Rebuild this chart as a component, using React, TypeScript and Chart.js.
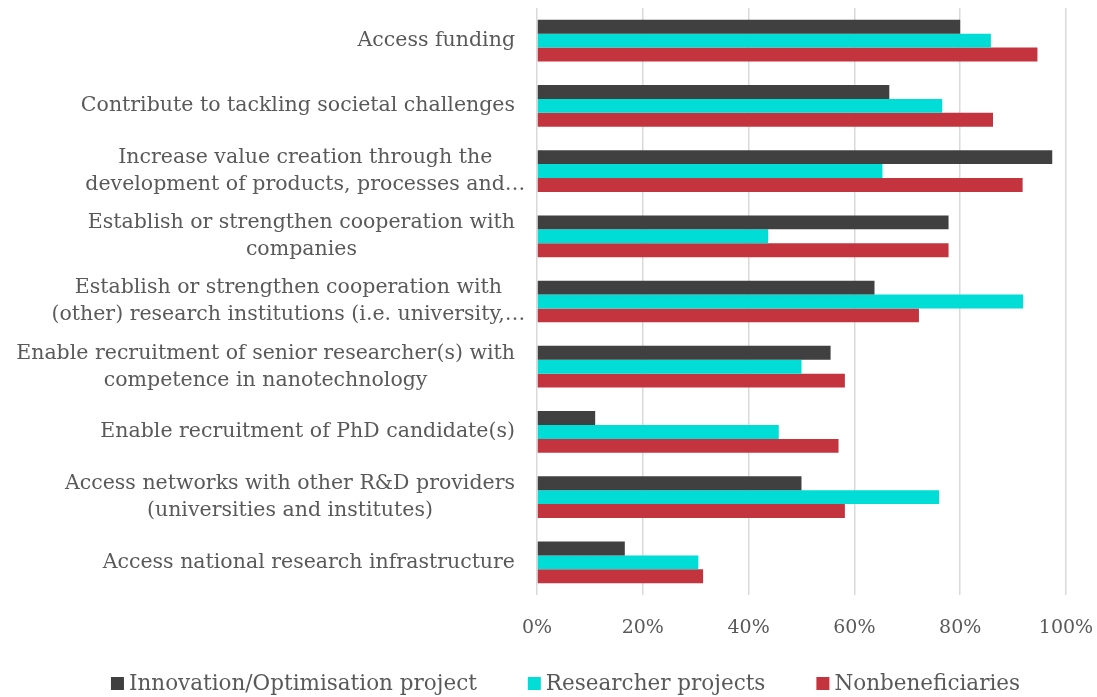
import React, { useEffect, useRef } from "react";
import { Chart, registerables } from "chart.js";

Chart.register(...registerables);

const categories: string[][] = [
  ["Access funding"],
  ["Contribute to tackling societal challenges"],
  ["Increase value creation through the", "development of products, processes and…"],
  ["Establish or strengthen cooperation with", "companies"],
  ["Establish or strengthen cooperation with", "(other) research institutions (i.e. university,…"],
  ["Enable recruitment of senior researcher(s) with", "competence in nanotechnology"],
  ["Enable recruitment of PhD candidate(s)"],
  ["Access networks with other R&D providers", "(universities and institutes)"],
  ["Access national research infrastructure"],
];

const innovation = [80.0, 66.6, 97.4, 77.8, 63.8, 55.5, 11.0, 50.0, 16.6];
const researcher = [85.8, 76.6, 65.3, 43.7, 91.9, 50.0, 45.7, 76.0, 30.5];
const nonbeneficiaries = [94.6, 86.2, 91.8, 77.8, 72.2, 58.2, 57.0, 58.2, 31.4];

const seriesNames = ["Innovation/Optimisation project", "Researcher projects", "Nonbeneficiaries"];
const seriesColors = ["#404040", "#00DCD6", "#C3343E"];

const FONT = "'DejaVu Serif', Georgia, serif";
const TEXT = "#595959";
const LABEL_SIZE = 20.5;
const LINE_H = 27;
const TICK_SIZE = 19;
const LEGEND_SIZE = 21.5;

const customText = {
  id: "customText",
  afterDraw(chart: any) {
    const yScale = chart.scales.y;
    const xScale = chart.scales.x;
    const ctx = chart.ctx;
    ctx.save();

    // category labels: block right-aligned next to the axis, lines centred in the block
    ctx.font = `${LABEL_SIZE}px ${FONT}`;
    ctx.fillStyle = TEXT;
    ctx.textAlign = "center";
    ctx.textBaseline = "middle";
    const right = yScale.right - yScale.options.ticks.padding;
    categories.forEach((lines, i) => {
      const y = yScale.getPixelForTick(i);
      let maxw = 0;
      lines.forEach((l) => {
        const w = ctx.measureText(l.replace(/…$/, "")).width;
        if (w > maxw) maxw = w;
      });
      const cx = right - maxw / 2;
      const n = lines.length;
      lines.forEach((l, j) => {
        ctx.fillText(l, cx, y + (j - (n - 1) / 2) * LINE_H);
      });
    });

    // x tick labels
    ctx.font = `${TICK_SIZE}px ${FONT}`;
    ctx.textAlign = "center";
    ctx.textBaseline = "alphabetic";
    xScale.ticks.forEach((t: any, i: number) => {
      ctx.fillText(`${t.value}%`, xScale.getPixelForTick(i), chart.chartArea.bottom + 38);
    });

    // legend
    ctx.font = `${LEGEND_SIZE}px ${FONT}`;
    ctx.textAlign = "left";
    ctx.textBaseline = "alphabetic";
    const box = 13;
    const gap = 5;
    const itemGap = 51;
    const widths = chart.data.datasets.map((d: any) => box + gap + ctx.measureText(d.label).width);
    const total = widths.reduce((a: number, b: number) => a + b, 0) + itemGap * (widths.length - 1);
    let x = chart.width / 2 - total / 2 + 17;
    const base = chart.height - 7;
    chart.data.datasets.forEach((d: any, i: number) => {
      ctx.fillStyle = d.backgroundColor;
      ctx.fillRect(x, base - box, box, box);
      ctx.fillStyle = TEXT;
      ctx.fillText(d.label, x + box + gap, base);
      x += widths[i] + itemGap;
    });
    ctx.restore();
  },
};

export default function App() {
  const ref = useRef<HTMLCanvasElement>(null);
  useEffect(() => {
    if (!ref.current) return;
    const chart = new Chart(ref.current, {
      type: "bar",
      data: {
        labels: categories,
        datasets: [innovation, researcher, nonbeneficiaries].map((d, i) => ({
          label: seriesNames[i],
          data: d,
          backgroundColor: seriesColors[i],
          borderWidth: 0,
          categoryPercentage: 0.64,
          barPercentage: 1.0,
        })),
      },
      options: {
        indexAxis: "y",
        animation: false,
        responsive: true,
        maintainAspectRatio: false,
        layout: { padding: { top: 8, right: 31, left: 8, bottom: 102 } },
        scales: {
          x: {
            min: 0,
            max: 100,
            border: { display: false },
            grid: { color: "#d9d9d9", lineWidth: 1.5, drawTicks: false },
            ticks: { stepSize: 20, display: false },
            afterFit: (s: any) => {
              s.paddingLeft = 0;
              s.paddingRight = 0;
            },
          },
          y: {
            border: { display: false },
            grid: { display: false, drawTicks: false },
            ticks: {
              padding: 22,
              color: "rgba(0,0,0,0)",
              font: { family: FONT, size: LABEL_SIZE, lineHeight: `${LINE_H}px` as any },
            },
            afterFit: (s: any) => {
              s.paddingTop = 0;
              s.paddingBottom = 0;
            },
          },
        },
        plugins: {
          legend: { display: false },
          tooltip: { enabled: false },
        },
      },
      plugins: [customText],
    });
    return () => chart.destroy();
  }, []);
  return (
    <div style={{ position: "absolute", left: 0, top: 0, width: 1097, height: 697 }}>
      <canvas ref={ref} />
    </div>
  );
}
